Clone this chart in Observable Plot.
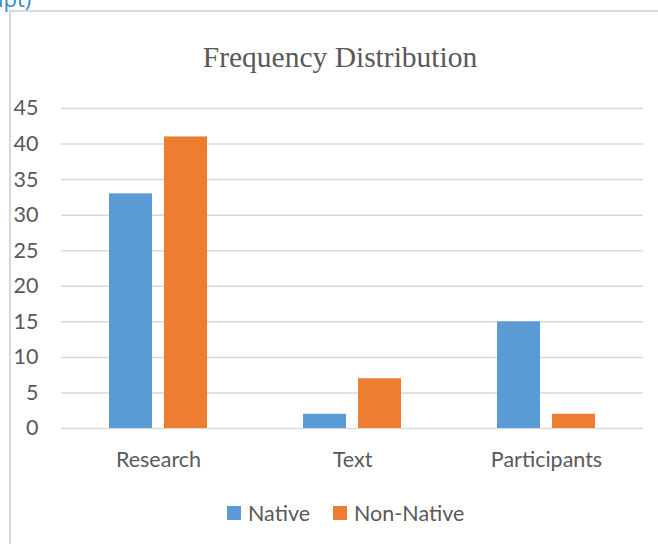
<!DOCTYPE html>
<html>
<head>
<meta charset="utf-8">
<script src="https://cdn.jsdelivr.net/npm/d3@7"></script>
<script src="https://cdn.jsdelivr.net/npm/@observablehq/plot@0.6"></script>
<style>
  html, body { margin: 0; padding: 0; background: #fff; }
  #wrap { position: relative; width: 658px; height: 544px; overflow: hidden; background: #fff; }
  #frame { position: absolute; left: 9px; top: 10px; width: 700px; height: 600px;
           border-left: 2px solid #d9d9d9; border-top: 2px solid #d9d9d9; box-sizing: border-box; }
  #frag { position: absolute; left: -2px; top: -17px; font: 22px "Open Sans", sans-serif; color: #2e8ad8; }
  #title { position: absolute; left: 0; width: 680px; top: 37px; text-align: center;
           font: 29.5px "Liberation Serif", serif; color: #595959; line-height: 40px; }
  #chart { position: absolute; left: 0; top: 0; }
  #legend { position: absolute; left: 227px; top: 497px; display: flex; align-items: center;
            font: 21.5px Lato, sans-serif; color: #595959; line-height: 32px; }
  .sw { width: 14px; height: 14px; display: inline-block; margin-right: 7px; }
  .item { display: flex; align-items: center; margin-right: 23px; }
</style>
</head>
<body>
<div id="wrap">
  <div id="frag">ipt)</div>
  <div id="frame"></div>
  <div id="title">Frequency Distribution</div>
  <div id="chart"></div>
  <div id="legend"></div>
</div>
<script>
const categories = ["Research", "Text", "Participants"];
const seriesNames = ["Native", "Non-Native"];
const nativeValues = [33, 2, 15];
const nonNativeValues = [41, 7, 2];
const yTicks = [0, 5, 10, 15, 20, 25, 30, 35, 40, 45];
const colors = ["#5b9bd5", "#ed7d31"];

const data = [];
categories.forEach((c, i) => {
  data.push({category: c, series: seriesNames[0], value: nativeValues[i]});
  data.push({category: c, series: seriesNames[1], value: nonNativeValues[i]});
});

const chart = Plot.plot({
  width: 658,
  height: 480,
  marginTop: 108,
  marginBottom: 52,
  marginLeft: 60,
  marginRight: 15,
  style: {fontFamily: "Lato, sans-serif", fontSize: "21.5px", color: "#595959", background: "transparent", overflow: "visible"},
  fx: {domain: categories, padding: 0, axis: "bottom", tickSize: 0, tickPadding: 23, label: null},
  x: {domain: seriesNames, paddingInner: 0.214, paddingOuter: 0.842, axis: null},
  y: {domain: [0, 45], ticks: yTicks, tickSize: 0, tickPadding: 23, label: null},
  color: {domain: seriesNames, range: colors},
  marks: [
    Plot.ruleY(yTicks, {stroke: "#d9d9d9", strokeWidth: 1.5}),
    Plot.barY(data, {fx: "category", x: "series", y: "value", fill: "series"})
  ]
});
document.getElementById("chart").appendChild(chart);

const legend = document.getElementById("legend");
seriesNames.forEach((s, i) => {
  const it = document.createElement("div");
  it.className = "item";
  const sw = document.createElement("span");
  sw.className = "sw";
  sw.style.background = colors[i];
  it.appendChild(sw);
  it.appendChild(document.createTextNode(s));
  legend.appendChild(it);
});
</script>
</body>
</html>
